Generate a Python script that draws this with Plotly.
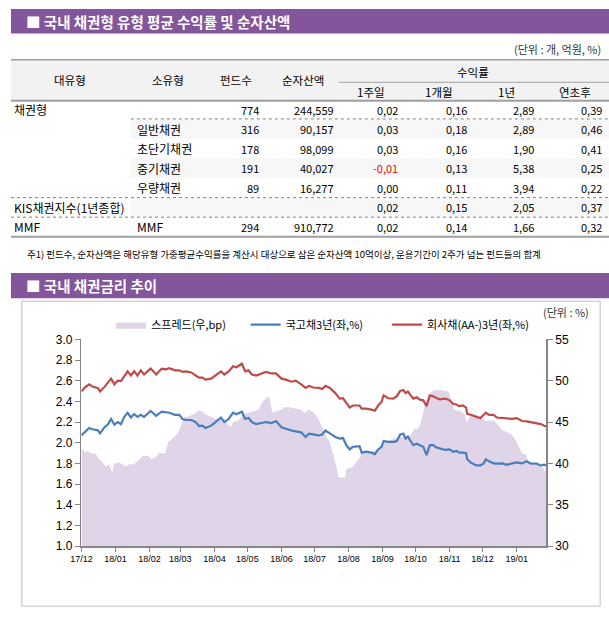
import plotly.graph_objects as go

W, H = 609, 622


def px(x):
    return x / W


def py(y):
    return 1 - y / H


# ---------------- table data ----------------
title_table = "■ 국내 채권형 유형 평균 수익률 및 순자산액"
title_chart = "■ 국내 채권금리 추이"
unit_table = "(단위 : 개, 억원, %)"
unit_chart = "(단위 : %)"
note_text = "주1) 펀드수, 순자산액은 해당유형 가중평균수익률을 계산시 대상으로 삼은 순자산액 10억이상, 운용기간이 2주가 넘는 펀드들의 합계"

header_main = ["대유형", "소유형", "펀드수", "순자산액"]
header_group = "수익률"
header_returns = ["1주일", "1개월", "1년", "연초후"]

big_types = ["채권형", "", "", "", "", "KIS채권지수(1년종합)", "MMF"]
sub_types = ["", "일반채권", "초단기채권", "중기채권", "우량채권", "", "MMF"]
fund_counts = ["774", "316", "178", "191", "89", "", "294"]
net_assets = ["244,559", "90,157", "98,099", "40,027", "16,277", "", "910,772"]
ret_1w = ["0,02", "0,03", "0,03", "-0,01", "0,00", "0,02", "0,02"]
ret_1m = ["0,16", "0,18", "0,16", "0,13", "0,11", "0,15", "0,14"]
ret_1y = ["2,89", "2,89", "1,90", "5,38", "3,94", "2,05", "1,66"]
ret_ytd = ["0,39", "0,46", "0,41", "0,25", "0,22", "0,37", "0,32"]

# ---------------- chart data ----------------
line_dates = [
    "2017-12-01", "2017-12-04", "2017-12-08", "2017-12-11", "2017-12-16", "2017-12-18",
    "2017-12-22", "2017-12-25", "2017-12-28", "2017-12-31", "2018-01-03", "2018-01-06",
    "2018-01-09", "2018-01-12", "2018-01-15", "2018-01-18", "2018-01-21", "2018-01-24",
    "2018-01-27", "2018-02-02", "2018-02-05", "2018-02-07", "2018-02-12", "2018-02-16",
    "2018-02-19", "2018-02-24", "2018-02-28", "2018-03-03", "2018-03-06", "2018-03-11",
    "2018-03-15", "2018-03-18", "2018-03-21", "2018-03-24", "2018-03-29", "2018-04-02",
    "2018-04-07", "2018-04-10", "2018-04-14", "2018-04-18", "2018-04-21", "2018-04-26",
    "2018-04-29", "2018-05-02", "2018-05-05", "2018-05-09", "2018-05-14", "2018-05-18",
    "2018-05-23", "2018-05-27", "2018-06-01", "2018-06-05", "2018-06-10", "2018-06-14",
    "2018-06-19", "2018-06-23", "2018-06-26", "2018-06-30", "2018-07-05", "2018-07-08",
    "2018-07-11", "2018-07-15", "2018-07-20", "2018-07-24", "2018-07-27", "2018-07-30",
    "2018-08-02", "2018-08-05", "2018-08-11", "2018-08-13", "2018-08-17", "2018-08-22",
    "2018-08-25", "2018-08-28", "2018-08-31", "2018-09-02", "2018-09-06", "2018-09-11",
    "2018-09-14", "2018-09-17", "2018-09-20", "2018-09-22", "2018-09-24", "2018-09-26",
    "2018-09-29", "2018-10-02", "2018-10-05", "2018-10-08", "2018-10-11", "2018-10-14",
    "2018-10-17", "2018-10-20", "2018-10-23", "2018-10-28", "2018-11-01", "2018-11-04",
    "2018-11-07", "2018-11-10", "2018-11-13", "2018-11-16", "2018-11-17", "2018-11-20",
    "2018-11-25", "2018-11-29", "2018-12-02", "2018-12-04", "2018-12-07", "2018-12-11",
    "2018-12-14", "2018-12-19", "2018-12-23", "2018-12-28", "2019-01-01", "2019-01-06",
    "2019-01-10", "2019-01-14", "2019-01-19", "2019-01-23", "2019-01-26", "2019-01-28",
]

ktb_3y = [
    2.071, 2.10, 2.143, 2.13, 2.12, 2.09,
    2.15, 2.175, 2.23, 2.175, 2.20, 2.18,
    2.25, 2.29, 2.244, 2.276, 2.25, 2.27,
    2.25, 2.307, 2.28, 2.26, 2.30, 2.29,
    2.29, 2.27, 2.27, 2.23, 2.22, 2.22,
    2.20, 2.16, 2.165, 2.143, 2.165, 2.20,
    2.244, 2.20, 2.23, 2.29, 2.276, 2.30,
    2.23, 2.24, 2.20, 2.18, 2.19, 2.20,
    2.19, 2.21, 2.15, 2.134, 2.118, 2.11,
    2.10, 2.055, 2.087, 2.08, 2.07, 2.08,
    2.118, 2.09, 2.055, 2.04, 2.045, 1.976,
    1.935, 1.96, 1.967, 1.904, 1.913, 1.904,
    1.89, 1.935, 1.96, 2.017, 2.008, 2.008,
    2.017, 2.08, 2.087, 2.04, 2.06, 2.024,
    1.976, 1.99, 1.976, 1.96, 1.88, 1.976,
    1.976, 1.954, 1.945, 1.93, 1.935, 1.913,
    1.92, 1.904, 1.904, 1.898, 1.84, 1.81,
    1.78, 1.78, 1.80, 1.84, 1.82, 1.80,
    1.797, 1.80, 1.787, 1.80, 1.81, 1.80,
    1.82, 1.797, 1.797, 1.78, 1.787, 1.78,
]

corp_aa_3y = [
    2.496, 2.534, 2.565, 2.543, 2.528, 2.496,
    2.54, 2.575, 2.62, 2.565, 2.60, 2.597,
    2.65, 2.69, 2.65, 2.69, 2.65, 2.70,
    2.66, 2.717, 2.685, 2.66, 2.717, 2.71,
    2.72, 2.70, 2.70, 2.685, 2.69, 2.68,
    2.65, 2.63, 2.63, 2.61, 2.62, 2.65,
    2.69, 2.66, 2.69, 2.74, 2.73, 2.764,
    2.69, 2.70, 2.66, 2.65, 2.67, 2.685,
    2.67, 2.67, 2.62, 2.61, 2.59, 2.60,
    2.565, 2.53, 2.55, 2.534, 2.53, 2.52,
    2.55, 2.53, 2.48, 2.427, 2.43, 2.386,
    2.34, 2.36, 2.36, 2.33, 2.33, 2.32,
    2.31, 2.36, 2.395, 2.458, 2.43, 2.427,
    2.45, 2.50, 2.51, 2.48, 2.496, 2.465,
    2.427, 2.44, 2.417, 2.41, 2.354, 2.458,
    2.45, 2.433, 2.42, 2.427, 2.41, 2.376,
    2.37, 2.354, 2.36, 2.34, 2.28, 2.27,
    2.25, 2.238, 2.27, 2.29, 2.27, 2.27,
    2.244, 2.238, 2.238, 2.23, 2.238, 2.21,
    2.206, 2.197, 2.187, 2.18, 2.165, 2.156,
]

spread_dates = [
    "2017-12-01", "2017-12-04", "2017-12-07", "2017-12-10", "2017-12-14", "2017-12-17",
    "2017-12-20", "2017-12-23", "2017-12-26", "2017-12-29", "2017-12-31", "2018-01-04",
    "2018-01-07", "2018-01-11", "2018-01-13", "2018-01-18", "2018-01-22", "2018-01-26",
    "2018-01-31", "2018-02-03", "2018-02-07", "2018-02-10", "2018-02-15", "2018-02-18",
    "2018-02-22", "2018-02-27", "2018-03-02", "2018-03-05", "2018-03-09", "2018-03-14",
    "2018-03-18", "2018-03-21", "2018-03-24", "2018-03-29", "2018-04-02", "2018-04-07",
    "2018-04-11", "2018-04-14", "2018-04-16", "2018-04-18", "2018-04-23", "2018-04-27",
    "2018-05-02", "2018-05-06", "2018-05-11", "2018-05-14", "2018-05-17", "2018-05-20",
    "2018-05-21", "2018-05-24", "2018-05-27", "2018-06-01", "2018-06-04", "2018-06-08",
    "2018-06-13", "2018-06-16", "2018-06-19", "2018-06-22", "2018-06-25", "2018-06-29",
    "2018-07-03", "2018-07-06", "2018-07-09", "2018-07-12", "2018-07-15", "2018-07-18",
    "2018-07-21", "2018-07-23", "2018-07-27", "2018-07-29", "2018-07-30", "2018-08-02",
    "2018-08-05", "2018-08-08", "2018-08-11", "2018-08-13", "2018-08-17", "2018-08-22",
    "2018-08-26", "2018-08-31", "2018-09-03", "2018-09-07", "2018-09-11", "2018-09-16",
    "2018-09-20", "2018-09-25", "2018-09-28", "2018-09-30", "2018-10-03", "2018-10-05",
    "2018-10-08", "2018-10-10", "2018-10-13", "2018-10-17", "2018-10-22", "2018-10-26",
    "2018-10-31", "2018-11-02", "2018-11-05", "2018-11-08", "2018-11-11", "2018-11-14",
    "2018-11-17", "2018-11-19", "2018-11-22", "2018-11-26", "2018-12-01", "2018-12-04",
    "2018-12-07", "2018-12-11", "2018-12-14", "2018-12-19", "2018-12-23", "2018-12-28",
    "2018-12-31", "2019-01-03", "2019-01-06", "2019-01-10", "2019-01-11", "2019-01-14",
    "2019-01-19", "2019-01-23", "2019-01-26", "2019-01-28",
]

spread_bp = [
    41.9, 41.4, 41.5, 41.2, 41.2, 40.5,
    40.2, 39.6, 39.9, 38.9, 40.0, 40.1,
    39.9, 39.6, 39.9, 39.9, 40.4, 40.9,
    40.9, 40.5, 40.8, 41.3, 41.2, 42.6,
    43.0, 43.7, 44.8, 45.6, 45.7, 46.0,
    46.4, 46.3, 45.9, 45.6, 45.4, 45.6,
    45.2, 44.6, 44.4, 45.0, 45.2, 45.9,
    46.1, 46.3, 46.5, 47.3, 47.8, 48.1,
    47.9, 46.1, 46.3, 46.5, 46.8, 46.8,
    46.7, 46.65, 46.5, 46.1, 46.5, 46.3,
    45.7, 45.0, 44.0, 43.2, 42.6, 41.2,
    39.6, 38.3, 38.3, 38.3, 39.3, 39.5,
    39.6, 40.2, 40.6, 41.2, 41.3, 41.3,
    41.6, 42.2, 42.6, 42.8, 43.0, 43.2,
    43.2, 43.2, 43.7, 44.2, 44.2, 44.6,
    46.1, 47.3, 48.3, 48.8, 48.9, 48.8,
    48.7, 47.9, 46.5, 46.4, 46.3, 46.0,
    45.0, 45.6, 46.0, 45.7, 45.4, 45.1,
    45.2, 45.2, 44.8, 44.0, 43.8, 43.4,
    42.8, 42.0, 41.2, 41.0, 40.4, 39.8,
    39.8, 39.7, 39.3, 38.9,
]

assert len(line_dates) == len(ktb_3y) == len(corp_aa_3y)
assert len(spread_dates) == len(spread_bp)

month_ticks = ["2017-12-01", "2018-01-01", "2018-02-01", "2018-03-01", "2018-04-01",
               "2018-05-01", "2018-06-01", "2018-07-01", "2018-08-01", "2018-09-01",
               "2018-10-01", "2018-11-01", "2018-12-01", "2019-01-01"]
month_labels = ["17/12", "18/01", "18/02", "18/03", "18/04", "18/05", "18/06",
                "18/07", "18/08", "18/09", "18/10", "18/11", "18/12", "19/01"]

# ---------------- style ----------------
PURPLE = "#83559A"
KR = "Noto Sans CJK KR"
LAT = "Liberation Sans"
SPREAD_C = "#E0D4E8"
BLUE = "#4A7EBB"
RED = "#BE4B48"
AXIS_C = "#868686"

fig = go.Figure()

fig.add_trace(go.Scatter(
    x=spread_dates, y=spread_bp, yaxis="y", mode="lines", fill="tozeroy",
    line=dict(width=0, color=SPREAD_C), fillcolor=SPREAD_C,
    name="스프레드(우,bp)", legend="legend",
))
fig.add_trace(go.Scatter(
    x=line_dates, y=ktb_3y, yaxis="y2", mode="lines",
    line=dict(color=BLUE, width=2.2), name="국고채3년(좌,%)", legend="legend2",
))
fig.add_trace(go.Scatter(
    x=line_dates, y=corp_aa_3y, yaxis="y2", mode="lines",
    line=dict(color=RED, width=2.2), name="회사채(AA-)3년(좌,%)", legend="legend3",
))

x0p, x1p = 71.7, 545.2
ytop, ybot = 340, 551.5


def legend_at(x_left):
    return dict(
        orientation="h", x=px(x_left), y=py(325), xanchor="left", yanchor="middle",
        font=dict(family=KR, size=11, color="#000"),
        bgcolor="rgba(0,0,0,0)", itemclick=False,
    )


fig.update_layout(
    width=W, height=H,
    margin=dict(l=0, r=0, t=0, b=0),
    paper_bgcolor="white", plot_bgcolor="rgba(0,0,0,0)",
    showlegend=True,
    legend=legend_at(102),
    legend2=legend_at(239),
    legend3=legend_at(383),
    xaxis=dict(
        type="date", domain=[px(x0p), px(x1p)],
        range=["2017-12-01", "2019-01-28"],
        tickvals=month_ticks, ticktext=month_labels,
        ticks="outside", ticklen=4, tickcolor=AXIS_C,
        showline=True, linecolor=AXIS_C, linewidth=1.5,
        showgrid=False, zeroline=False,
        tickfont=dict(family=LAT, size=9, color="#000"),
        anchor="y2",
    ),
    yaxis=dict(
        domain=[py(ybot), py(ytop)], range=[30, 55], dtick=5,
        side="right", showgrid=False, zeroline=False,
        showline=True, linecolor=AXIS_C, linewidth=1.5,
        ticks="outside", ticklen=5, tickcolor=AXIS_C,
        tickfont=dict(family=LAT, size=12, color="#000"),
        anchor="x",
    ),
    yaxis2=dict(
        domain=[py(ybot), py(ytop)], range=[1.0, 3.0], dtick=0.2, tickformat=".1f",
        overlaying="y", side="left", showgrid=False, zeroline=False,
        showline=True, linecolor=AXIS_C, linewidth=1.5,
        ticks="outside", ticklen=5, tickcolor=AXIS_C,
        tickfont=dict(family=LAT, size=12, color="#000"),
        anchor="x",
    ),
)

shapes = []


def rect(x0, y0, x1, y1, fill, line_color=None, lw=0):
    shapes.append(dict(
        type="rect", xref="paper", yref="paper",
        x0=px(x0), x1=px(x1), y0=py(y1), y1=py(y0),
        fillcolor=fill, line=dict(width=lw, color=line_color or fill), layer="below",
    ))


def hline(x0, x1, y, color, lw=1, dash="solid"):
    shapes.append(dict(
        type="line", xref="paper", yref="paper",
        x0=px(x0), x1=px(x1), y0=py(y), y1=py(y),
        line=dict(color=color, width=lw, dash=dash), layer="above",
    ))


# title bars
rect(0, 2, 609, 27, PURPLE)
rect(0, 272, 609, 298, PURPLE)
# table header
rect(0, 54, 609, 96, "#F2F2F2")
hline(0, 609, 54, "#A0A0A0", 1.5)
hline(334, 609, 77, "#A0A0A0", 1)
hline(0, 609, 96, "#A0A0A0", 2)
# alternating shaded rows
rect(122, 115, 609, 135, "#F7F7F7")
rect(122, 155, 609, 175, "#F7F7F7")
rect(122, 196, 609, 214, "#F7F7F7")
hline(122, 609, 114.5, "#808080", 1, "dot")
hline(0, 609, 195, "#808080", 1, "dot")
hline(0, 609, 215, "#808080", 1, "dot")
hline(0, 609, 235, "#A0A0A0", 2)
# chart frame
shapes.append(dict(type="rect", xref="paper", yref="paper",
                   x0=px(11), x1=px(600), y0=py(613), y1=py(301),
                   line=dict(color="#BFBFBF", width=1), fillcolor="rgba(0,0,0,0)",
                   layer="below"))

fig.update_layout(shapes=shapes)


def text(x, y, s, anchor="left", size=11, color="#000", bold=False, family=KR):
    if bold:
        s = "<b>" + s + "</b>"
    fig.add_annotation(
        x=px(x), y=py(y), xref="paper", yref="paper", text=s, showarrow=False,
        xanchor=anchor, yanchor="middle", font=dict(family=family, size=size, color=color),
    )


text(13, 15, title_table, size=14.5, color="white", bold=True)
text(13, 285, title_chart, size=14.5, color="white", bold=True)
text(603, 43, unit_table, anchor="right", size=11, color="#333")
text(591, 312, unit_chart, anchor="right", size=11, color="#333")
text(14, 253, note_text, size=9.5, color="#000")

# header labels
header_x = [60, 160, 229, 297]
for hx, lbl in zip(header_x, header_main):
    text(hx, 75, lbl, anchor="center", size=11.5)
text(471, 66, header_group, anchor="center", size=11.5)
ret_x = [367, 436, 505, 574]
for rx, lbl in zip(ret_x, header_returns):
    text(rx, 87, lbl, anchor="center", size=11.5)

# rows
row_y = [105, 125, 145, 165, 185, 205, 225]
for i, yy in enumerate(row_y):
    if big_types[i]:
        text(1, yy, big_types[i], size=12)
    if sub_types[i]:
        text(126, yy, sub_types[i], size=12)
    if fund_counts[i]:
        text(255, yy, fund_counts[i], anchor="right")
    if net_assets[i]:
        text(331, yy, net_assets[i], anchor="right")
    for col, rx in zip([ret_1w, ret_1m, ret_1y, ret_ytd], [396, 466, 535, 604]):
        v = col[i]
        c = "#FF0000" if v.startswith("-") else "#000"
        text(rx, yy, v, anchor="right", color=c)

fig.write_html(
    "out.html",
    config={"displayModeBar": False, "staticPlot": True},
    post_script="document.body.style.margin='0';document.body.style.overflow='hidden';",
)
